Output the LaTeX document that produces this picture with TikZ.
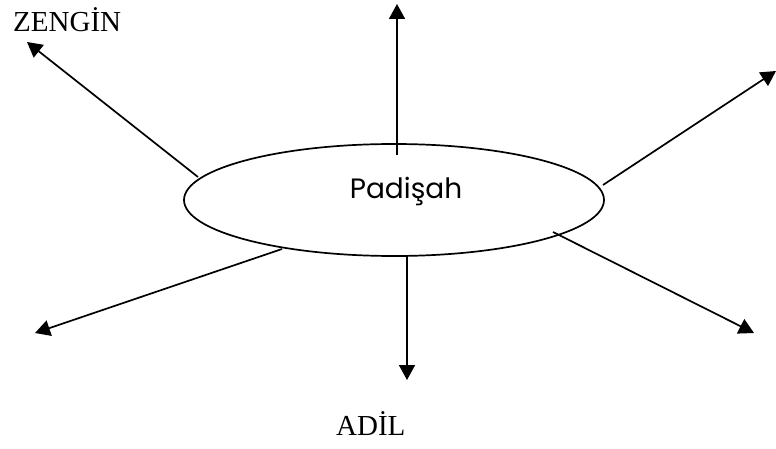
\documentclass[tikz,border=0pt]{standalone}
\usepackage{fontspec}
\setmainfont{Liberation Serif}
\newfontfamily\gothic{Poppins}
\usetikzlibrary{arrows.meta,shapes.geometric}
\begin{document}
\begin{tikzpicture}[x=1pt,y=-1pt,
  arr/.style={line width=1.7pt,-{Triangle[length=15pt,width=16pt]}},
  word/.style={inner sep=0pt,font=\fontsize{29}{29}\selectfont}]
\useasboundingbox (0,0) rectangle (776,449);
\node[draw,line width=1.7pt,ellipse,minimum width=420pt,minimum height=112pt,inner sep=0pt] (P) at (394,200) {};
\node[inner sep=0pt,font=\gothic\fontsize{28}{28}\selectfont,anchor=base] (Pt) at (406,199) {Padişah};
\node[word,anchor=base west] (Z) at (13,32) {ZENGİN};
\node[word,anchor=base west] (A) at (336,435) {ADİL};
\coordinate (s1) at (397,155);
\coordinate (e1) at (397,4);
\coordinate (s2) at (198,177);
\coordinate (e2) at (27,42);
\coordinate (s3) at (603,185);
\coordinate (e3) at (776,71);
\coordinate (s4) at (282,249);
\coordinate (e4) at (35,333);
\coordinate (s5) at (553,232);
\coordinate (e5) at (754,333);
\coordinate (s6) at (407,256);
\coordinate (e6) at (407,380);
\draw[arr] (s1) -- (e1);
\draw[arr] (s2) -- (e2);
\draw[arr] (s3) -- (e3);
\draw[arr] (s4) -- (e4);
\draw[arr] (s5) -- (e5);
\draw[arr] (s6) -- (e6);
\end{tikzpicture}
\end{document}
